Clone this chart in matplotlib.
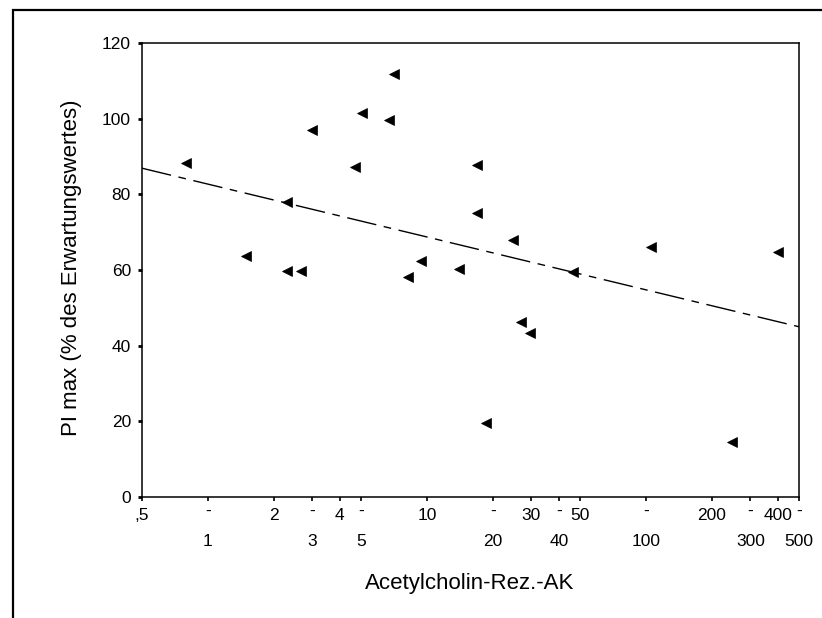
import matplotlib
matplotlib.use('Agg')
import matplotlib.pyplot as plt
import numpy as np
from matplotlib.patches import Rectangle

plt.rcParams['font.family'] = ['Liberation Sans', 'DejaVu Sans']

# Data
ak = [0.79, 1.49, 2.29, 2.29, 2.65, 3.0, 4.69, 5.03, 6.74, 7.07, 8.2, 9.4,
      14.0, 16.9, 16.9, 18.6, 24.8, 27.0, 29.6, 46.5, 106, 247, 400]
pimax = [88.2, 63.7, 78.1, 59.8, 59.8, 97.0, 87.3, 101.4, 99.7, 111.8, 58.2, 62.5,
         60.3, 87.8, 75.0, 19.6, 67.9, 46.3, 43.3, 59.6, 66.2, 14.6, 64.8]

# Regression line (log-linear)
fit_x = [0.5, 500]
fit_intercept = 82.7   # value at x = 1
fit_slope = -13.97     # change per decade

xticks_row1 = [0.5, 2, 4, 10, 30, 50, 200, 400]
xlabels_row1 = [',5', '2', '4', '10', '30', '50', '200', '400']
xticks_row2 = [1, 3, 5, 20, 40, 100, 300, 500]
xlabels_row2 = ['1', '3', '5', '20', '40', '100', '300', '500']
yticks = [0, 20, 40, 60, 80, 100, 120]

W, H = 822, 618
fig = plt.figure(figsize=(W / 100, H / 100), dpi=100)
ax = fig.add_axes([142 / W, 1 - 497 / H, (799 - 142) / W, (497 - 43) / H])

ax.set_xscale('log')
ax.set_xlim(0.5, 500)
ax.set_ylim(0, 120)

ax.plot(ak, pimax, linestyle='none', marker='<', markersize=6.5,
        color='black', markeredgewidth=0.5)

fx = np.array(fit_x)
fy = fit_intercept + fit_slope * np.log10(fx)
ax.plot(fx, fy, color='black', linewidth=1.0, linestyle=(0, (21.5, 5.5, 5.5, 5.5)))

for s in ax.spines.values():
    s.set_linewidth(1.1)

ax.set_yticks(yticks)
ax.set_yticklabels([str(v) for v in yticks], fontsize=12.5)
ax.tick_params(axis='y', length=3, width=2, pad=5)

ax.set_xticks(xticks_row1 + xticks_row2)
ax.set_xticklabels([])
ax.xaxis.set_minor_locator(matplotlib.ticker.NullLocator())
ax.tick_params(axis='x', length=3, width=1.2)

tr = ax.get_xaxis_transform()
for xv, lab in zip(xticks_row1, xlabels_row1):
    ax.text(xv, -18 / 454, lab, transform=tr, ha='center', va='center', fontsize=12.5)
for xv, lab in zip(xticks_row2, xlabels_row2):
    ax.text(xv, -45 / 454, lab, transform=tr, ha='center', va='center', fontsize=12.5)
    ax.text(xv, -14 / 454, '-', transform=tr, ha='center', va='center', fontsize=12.5)

fig.text(470 / W, 1 - 583 / H, 'Acetylcholin-Rez.-AK', ha='center', va='center', fontsize=16)
fig.text(71 / W, 1 - 268 / H, 'PI max (% des Erwartungswertes)', ha='center', va='center',
         rotation=90, fontsize=16)

# Outer frame (only left and top edges visible)
frame = Rectangle((13 / W, -0.5), 2.0, 1.5 - 10 / H, transform=fig.transFigure,
                  fill=False, edgecolor='black', linewidth=1.6, clip_on=False)
fig.patches.append(frame)

fig.savefig('out.png', dpi=100)
